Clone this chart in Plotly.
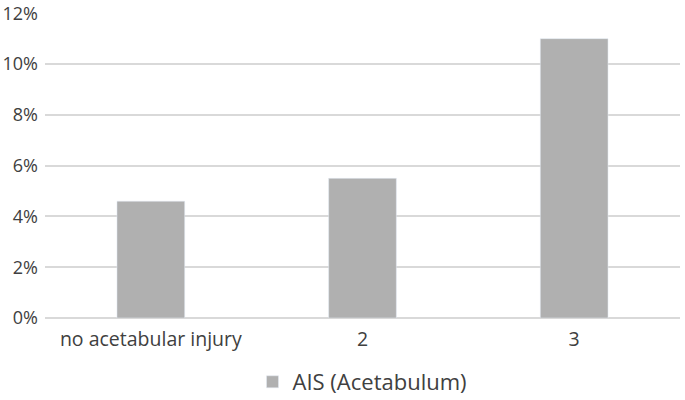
"""Bar chart: AIS (Acetabulum) share by category."""

import plotly.graph_objects as go

categories = ["no acetabular injury", "2", "3"]
values = [0.046, 0.055, 0.110]
tick_vals = [0, 0.02, 0.04, 0.06, 0.08, 0.10, 0.12]

fig = go.Figure(
    go.Bar(
        x=categories,
        y=values,
        name="AIS (Acetabulum)",
        marker_color="#b0b0b0",
        width=0.32,
        showlegend=True,
    )
)
fig.update_layout(
    width=685,
    height=400,
    margin=dict(l=45, r=5, t=13, b=82, autoexpand=False),
    plot_bgcolor="white",
    paper_bgcolor="white",
    font=dict(family="Open Sans, Lato, sans-serif", size=18, color="#404040"),
    legend=dict(
        orientation="h",
        x=0.5,
        xanchor="center",
        yref="container",
        y=0.045,
        yanchor="middle",
        font=dict(size=22),
        itemwidth=30,
    ),
    xaxis=dict(showline=False, ticks="", tickfont=dict(size=19.5), ticklabelstandoff=7),
    yaxis=dict(
        range=[0, 0.1201],
        tickvals=tick_vals,
        tickformat=".0%",
        showgrid=True,
        gridcolor="#d9d9d9",
        gridwidth=1.5,
        zeroline=True,
        zerolinecolor="#d9d9d9",
        zerolinewidth=1.5,
        ticks="",
        ticklabelstandoff=6,
        ticklabeloverflow="allow",
        tickfont=dict(size=18),
    ),
)
# drop the default page margin so the figure sits at the window's corner
fig.write_html(
    "out.html",
    config={"displayModeBar": False},
    post_script="document.body.style.margin='0';",
)
